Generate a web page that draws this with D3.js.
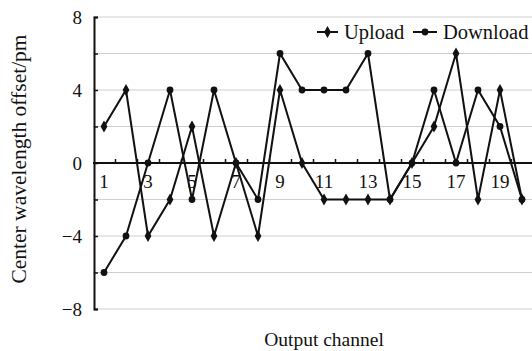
<!DOCTYPE html>
<html>
<head>
<meta charset="utf-8">
<script src="https://cdn.jsdelivr.net/npm/d3@7"></script>
<style>
  body { margin: 0; background: #fff; }
  text { font-family: "Liberation Serif", "Times New Roman", serif; fill: #111; }
</style>
</head>
<body>
<div id="chart"></div>
<script>
// channels and values
var channels = d3.range(1, 21)
var upload = [2, 4, -4, -2, 2, -4, 0, -4, 4, 0, -2, -2, -2, -2, 0, 2, 6, -2, 4, -2]
var download = [-6, -4, 0, 4, -2, 4, 0, -2, 6, 4, 4, 4, 6, -2, 0, 4, 0, 4, 2, -2]
var yTicks = [-8, -6, -4, -2, 0, 2, 4, 6, 8]
var yLabels = [-8, -4, 0, 4, 8]

var width = 532, height = 351
var plotLeft = 93, plotRight = 533, plotTop = 17, plotBottom = 309

var svg = d3.select('#chart').append('svg')
  .attr('width', width).attr('height', height)

var x = d3.scaleBand().domain(channels).range([plotLeft, plotRight]).padding(0)
var y = d3.scaleLinear().domain([-8, 8]).range([plotBottom, plotTop])

// grid lines
svg.append('g')
  .selectAll('line')
  .data(yTicks.filter(function(d) { return d !== 0 }))
  .enter().append('line')
  .attr('x1', plotLeft).attr('x2', width)
  .attr('y1', function(d) { return y(d) }).attr('y2', function(d) { return y(d) })
  .style('stroke', '#cfcfcf').style('stroke-width', 1)

// y axis, ticks point inward
var yAxis = d3.axisLeft(y).tickValues(yTicks).tickSize(-4).tickPadding(12)
  .tickFormat(function(d) { return yLabels.indexOf(d) >= 0 ? (d < 0 ? '\u2212' + (-d) : d) : '' })
var gy = svg.append('g').attr('transform', 'translate(' + (plotLeft + 1) + ',0)').call(yAxis)
gy.select('.domain').style('stroke', '#111').style('stroke-width', 2)
gy.selectAll('.tick line').style('stroke', '#111').style('stroke-width', 1.5)
gy.selectAll('text').style('font-size', '19px')

// zero line with tick marks at band edges, pointing up
var edges = d3.range(1, 20).map(function(i) { return plotLeft + i * x.step() })
var xEdge = d3.scaleLinear().domain([plotLeft, plotRight]).range([plotLeft, plotRight])
var gx = svg.append('g').attr('transform', 'translate(0,' + y(0) + ')')
  .call(d3.axisBottom(xEdge).tickValues(edges).tickSize(-4).tickFormat(''))
gx.select('.domain').attr('d', 'M' + plotLeft + ',0H' + width).style('stroke', '#111').style('stroke-width', 2)
gx.selectAll('.tick line').style('stroke', '#111').style('stroke-width', 1.5)

// channel labels, odd only
var gl = svg.append('g').attr('transform', 'translate(0,' + y(0) + ')')
  .call(d3.axisBottom(x).tickSize(0).tickPadding(12)
    .tickFormat(function(d) { return d % 2 === 1 ? d : '' }))
gl.select('.domain').remove()
gl.selectAll('text').style('font-size', '19px')

// lines
var line = d3.line()
  .x(function(d, i) { return x(channels[i]) + x.bandwidth() / 2 })
  .y(function(d) { return y(d) })

svg.append('path').datum(download).attr('d', line)
  .style('fill', 'none').style('stroke', '#111').style('stroke-width', 2)
svg.append('path').datum(upload).attr('d', line)
  .style('fill', 'none').style('stroke', '#111').style('stroke-width', 2)

var diamond = d3.symbol().type(d3.symbolDiamond).size(40)

svg.append('g').selectAll('circle').data(download).enter().append('circle')
  .attr('cx', function(d, i) { return x(channels[i]) + x.bandwidth() / 2 })
  .attr('cy', function(d) { return y(d) })
  .attr('r', 3.4).style('fill', '#111')

svg.append('g').selectAll('path').data(upload).enter().append('path')
  .attr('d', diamond)
  .attr('transform', function(d, i) {
    return 'translate(' + (x(channels[i]) + x.bandwidth() / 2) + ',' + y(d) + ')'
  })
  .style('fill', '#111')

// legend
var legend = svg.append('g').attr('transform', 'translate(0,32)')
legend.append('line').attr('x1', 317).attr('x2', 338).attr('y1', 0).attr('y2', 0)
  .style('stroke', '#111').style('stroke-width', 2)
legend.append('path').attr('d', diamond).attr('transform', 'translate(327.5,0)').style('fill', '#111')
legend.append('text').attr('x', 344).attr('y', 7).style('font-size', '20.5px').text('Upload')
legend.append('line').attr('x1', 413).attr('x2', 437).attr('y1', 0).attr('y2', 0)
  .style('stroke', '#111').style('stroke-width', 2)
legend.append('circle').attr('cx', 425).attr('cy', 0).attr('r', 3.4).style('fill', '#111')
legend.append('text').attr('x', 443).attr('y', 7).style('font-size', '20.5px').text('Download')

// axis titles
svg.append('text')
  .attr('transform', 'translate(26,159) rotate(-90)')
  .attr('text-anchor', 'middle').style('font-size', '21.5px')
  .text('Center wavelength offset/pm')
svg.append('text')
  .attr('x', 324).attr('y', 346)
  .attr('text-anchor', 'middle').style('font-size', '19.5px')
  .text('Output channel')
</script>
</body>
</html>
